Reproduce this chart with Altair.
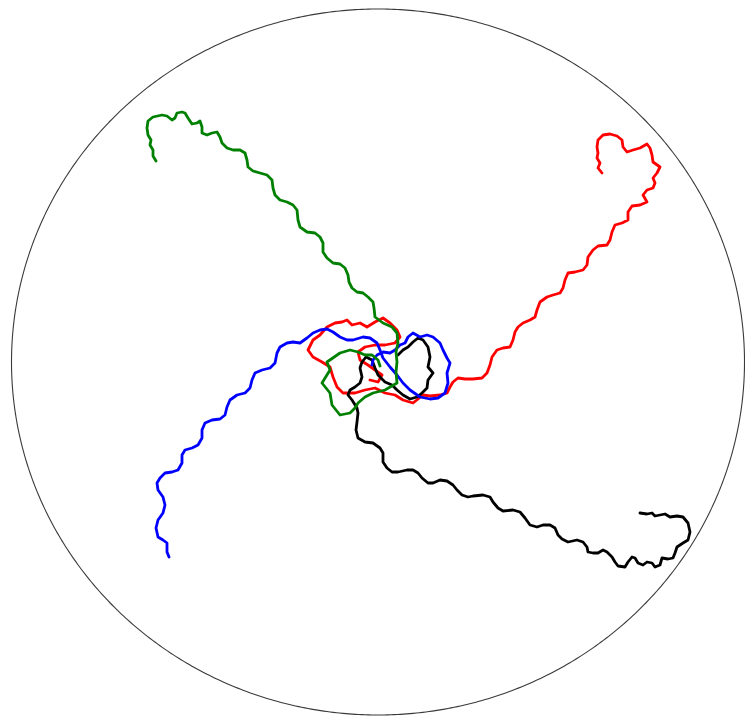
import altair as alt
import numpy as np
import pandas as pd

# Path points (x to the right, y downward)
green_pts = [(156,161),(153,156),(153,150),(150,145),(151,140),(148,135),(147,128),(148,121),(153,117),(162,115),(167,116),(172,120),(175,118),(177,113),(182,112),(185,113),(188,118),(192,124),(197,123),(200,121),(202,127),(202,133),(207,135),(212,133),(217,132),(220,137),(222,143),(227,148),(233,150),(240,150),(245,153),(247,160),(248,167),(253,171),(260,173),(267,175),(272,180),(273,188),(275,195),(280,200),(287,202),(293,205),(297,210),(298,220),(300,227),(307,232),(315,233),(320,237),(323,243),(323,252),(327,258),(333,263),(340,264),(345,268),(348,275),(349,282),(352,288),(357,292),(363,293),(368,297),(373,302),(374,308),(375,317),(383,323),(392,327),(397,333),(398,343),(396,352),(397,362),(396,372),(397,383),(385,390),(373,393),(365,397),(358,403),(355,408),(350,413),(340,415),(332,405),(330,393),(322,383),(330,370),(327,362),(340,353),(350,350),(358,352),(365,355),(372,355),(378,360),(380,366)]

red_pts = [(602,173),(598,168),(600,163),(597,158),(598,153),(597,147),(598,140),(603,135),(610,134),(617,136),(622,140),(623,147),(627,152),(633,150),(640,148),(647,144),(650,148),(652,155),(653,162),(660,167),(657,173),(653,178),(655,183),(653,188),(647,190),(643,195),(647,202),(640,205),(632,206),(628,212),(628,220),(622,223),(615,225),(612,232),(610,240),(607,245),(598,246),(593,250),(588,257),(587,265),(583,270),(575,272),(568,273),(565,280),(563,288),(560,293),(553,295),(547,297),(540,302),(537,310),(535,317),(530,320),(523,323),(518,327),(515,332),(513,340),(510,347),(503,348),(497,350),(492,357),(490,365),(487,373),(482,378),(473,379),(465,379),(458,378),(453,382),(450,387),(447,393),(440,395),(430,396),(423,395),(413,403),(403,400),(395,395),(385,393),(375,388),(365,390),(355,393),(350,393),(343,393),(337,387),(333,377),(330,367),(322,362),(313,357),(308,350),(313,340),(320,335),(327,327),(335,323),(342,322),(347,320),(352,325),(360,323),(367,327),(375,322),(383,318),(390,323),(397,330),(400,337),(395,343),(385,345),(375,345),(365,347),(358,352),(360,360),(368,365),(375,370),(382,375),(378,382),(370,380)]

blue_pts = [(169,557),(167,552),(167,543),(163,540),(158,537),(156,528),(158,520),(163,513),(165,505),(163,497),(158,490),(157,483),(160,478),(165,473),(172,472),(178,470),(182,463),(182,455),(185,450),(192,448),(198,445),(202,438),(202,430),(205,423),(212,420),(220,419),(225,415),(227,407),(230,400),(237,395),(245,393),(250,388),(252,380),(255,373),(262,370),(270,368),(275,363),(277,353),(280,347),(287,343),(293,342),(300,343),(307,338),(313,333),(320,330),(327,329),(333,332),(340,337),(347,340),(353,340),(363,337),(370,338),(377,343),(380,350),(383,358),(390,367),(397,375),(403,383),(410,390),(420,397),(430,399),(438,398),(445,393),(448,383),(447,373),(450,363),(447,358),(443,350),(440,343),(433,337),(427,335),(420,337),(413,333),(408,337),(405,343),(400,345),(395,350),(390,353),(383,352),(377,355),(373,360),(372,365)]

black_pts = [(640,513),(647,514),(652,513),(655,516),(660,515),(665,514),(670,517),(677,516),(683,517),(688,523),(690,532),(688,540),(683,543),(677,547),(675,553),(673,558),(668,559),(662,558),(660,565),(655,567),(652,563),(647,562),(643,565),(638,563),(635,558),(632,557),(628,562),(625,567),(618,566),(615,562),(612,557),(607,552),(603,550),(598,553),(593,553),(588,552),(587,547),(583,542),(577,540),(568,542),(562,539),(558,535),(555,528),(550,525),(543,525),(537,527),(530,525),(525,518),(520,512),(513,510),(503,511),(498,508),(493,502),(490,497),(483,495),(473,496),(468,497),(462,495),(457,490),(453,485),(447,481),(440,480),(433,483),(428,483),(422,478),(418,473),(413,470),(407,470),(398,472),(392,472),(387,468),(383,462),(383,453),(380,448),(373,443),(365,442),(358,438),(356,430),(357,422),(358,413),(357,408),(352,400),(348,395),(350,390),(355,387),(360,383),(362,377),(360,368),(362,362),(366,357),(372,360),(375,368),(378,375),(385,382),(392,385),(397,390),(403,395),(410,399),(417,397),(422,393),(427,388),(428,380),(433,373),(428,367),(430,357),(428,347),(423,340),(418,338),(413,342),(408,347),(403,350),(398,355)]

series_names = ["red", "black", "blue", "green"]
series_colors = ["#ff0000", "#000000", "#0000ff", "#008000"]

# boundary ellipse: centre and radii
# (held just inside the drawable page area so the ring stays closed)
circle_center = (378.0, 362.0)
circle_radii = (366.5, 353.0)

rows = []
for name, pts in zip(series_names, [red_pts, black_pts, blue_pts, green_pts]):
    for i, (x, y) in enumerate(pts):
        rows.append({"series": name, "i": i, "x": x, "y": y})
paths = pd.DataFrame(rows)

t = np.linspace(0, 2 * np.pi, 721)
ring = pd.DataFrame({
    "i": np.arange(len(t)),
    "x": circle_center[0] + circle_radii[0] * np.cos(t),
    "y": circle_center[1] + circle_radii[1] * np.sin(t),
})

W, H = 737, 708
xs = alt.Scale(domain=[8, 8 + W], nice=False, zero=False)
ys = alt.Scale(domain=[8, 8 + H], nice=False, zero=False, reverse=True)

ring_layer = alt.Chart(ring).mark_line(color="#3a3a3a", strokeWidth=1.1, clip=True).encode(
    x=alt.X("x:Q", scale=xs, axis=None),
    y=alt.Y("y:Q", scale=ys, axis=None),
    order="i:Q",
)

path_layers = []
for name, col in zip(series_names, series_colors):
    path_layers.append(
        alt.Chart(paths[paths.series == name]).mark_line(
            color=col, strokeWidth=2.8, strokeJoin="round", strokeCap="round", clip=True
        ).encode(
            x=alt.X("x:Q", scale=xs, axis=None),
            y=alt.Y("y:Q", scale=ys, axis=None),
            order="i:Q",
        )
    )

chart = alt.layer(ring_layer, *path_layers).properties(
    width=W, height=H, padding=0, background="white"
).configure_view(stroke=None)

chart.save("out.html", embed_options={"renderer": "svg", "actions": False})
